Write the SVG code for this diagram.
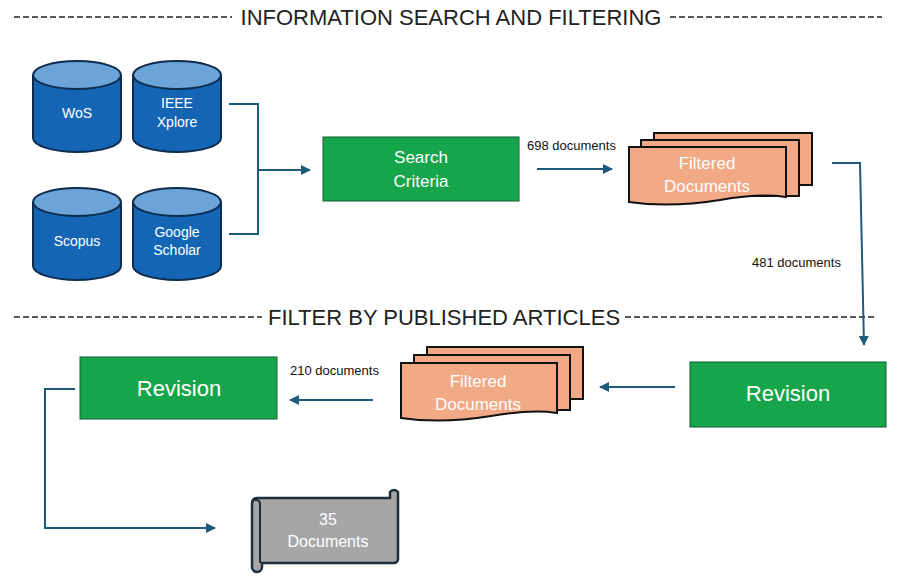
<svg xmlns="http://www.w3.org/2000/svg" width="900" height="584" viewBox="0 0 900 584">
<defs>
<style>
.t{font-family:"Liberation Sans",Arial,sans-serif}
.w{fill:#fff;text-anchor:middle}
.cyl{fill:#1466b4;stroke:#0d2c4e;stroke-width:2}
.top{fill:#6aa4d8;stroke:#0d2c4e;stroke-width:2}
.g{fill:#16a54a;stroke:#0f5f2e;stroke-width:1}
.doc{fill:#f2a985;stroke:#111;stroke-width:2}
.c{fill:none;stroke:#1e5a7e;stroke-width:2}
.d{stroke:#222;stroke-width:1.3;stroke-dasharray:6 3}
.h{font-size:22px;fill:#222;text-anchor:middle}
.l{font-size:13px;fill:#111}
</style>
<marker id="a" viewBox="0 0 10 10" refX="9" refY="5" markerWidth="5" markerHeight="5" orient="auto"><path d="M0,0L10,5L0,10z" fill="#1e5a7e"/></marker>
</defs>
<g id="headers" class="t">
<line class="d" x1="14" y1="17" x2="232" y2="17"/><line class="d" x1="670" y1="17" x2="882" y2="17"/>
<text class="h" x="451" y="25">INFORMATION SEARCH AND FILTERING</text>
<line class="d" x1="14" y1="317" x2="262" y2="317"/><line class="d" x1="625" y1="317" x2="877" y2="317"/>
<text class="h" x="444" y="325">FILTER BY PUBLISHED ARTICLES</text>
</g>
<g id="connectors">
<polyline class="c" points="229,104 258,104 258,234 229,234"/>
<line class="c" x1="258" y1="170" x2="310" y2="170" marker-end="url(#a)"/>
<line class="c" x1="537" y1="169" x2="612" y2="169" marker-end="url(#a)"/>
<polyline class="c" points="832,163 860,163 864,345" marker-end="url(#a)"/>
<line class="c" x1="675" y1="387" x2="600" y2="387" marker-end="url(#a)"/>
<line class="c" x1="373" y1="400" x2="290" y2="400" marker-end="url(#a)"/>
<polyline class="c" points="75,389 45,389 45,528 215,528" marker-end="url(#a)"/>
<text class="t l" x="527" y="150">698 documents</text>
<text class="t l" x="752" y="267">481 documents</text>
<text class="t l" x="290" y="375">210 documents</text>
</g>
<g id="wos" class="t"><path class="cyl" d="M33,75V138A44,14 0 0 0 121,138V75"/><ellipse class="top" cx="77" cy="75" rx="44" ry="14"/><text class="w" x="77" y="118" font-size="14">WoS</text></g>
<g id="ieee" class="t"><path class="cyl" d="M133,75V138A44,14 0 0 0 221,138V75"/><ellipse class="top" cx="177" cy="75" rx="44" ry="14"/><text class="w" x="177" y="108" font-size="14">IEEE</text><text class="w" x="177" y="127" font-size="14">Xplore</text></g>
<g id="scopus" class="t"><path class="cyl" d="M33,202V266A44,14 0 0 0 121,266V202"/><ellipse class="top" cx="77" cy="202" rx="44" ry="14"/><text class="w" x="77" y="246" font-size="14">Scopus</text></g>
<g id="scholar" class="t"><path class="cyl" d="M133,202V266A44,14 0 0 0 221,266V202"/><ellipse class="top" cx="177" cy="202" rx="44" ry="14"/><text class="w" x="177" y="237" font-size="14">Google</text><text class="w" x="177" y="255" font-size="14">Scholar</text></g>
<g id="search" class="t"><rect class="g" x="323" y="137" width="196" height="64"/><text class="w" x="421" y="163" font-size="17">Search</text><text class="w" x="421" y="187" font-size="17">Criteria</text></g>
<g id="filtered1" class="t">
<rect class="doc" x="654" y="133" width="158" height="52"/>
<rect class="doc" x="641" y="140" width="158" height="56"/>
<path class="doc" d="M629,147H786V197Q760,193 720,200Q670,208 629,202Z"/>
<text class="w" x="707" y="169" font-size="17">Filtered</text><text class="w" x="707" y="192" font-size="17">Documents</text>
</g>
<g id="revision1" class="t"><rect class="g" x="690" y="362" width="196" height="65"/><text class="w" x="788" y="401" font-size="22">Revision</text></g>
<g id="filtered2" class="t">
<rect class="doc" x="427" y="347" width="156" height="52"/>
<rect class="doc" x="414" y="355" width="156" height="55"/>
<path class="doc" d="M401,363H557V413Q531,409 491,416Q441,424 401,418Z"/>
<text class="w" x="478" y="387" font-size="17">Filtered</text><text class="w" x="478" y="410" font-size="17">Documents</text>
</g>
<g id="revision2" class="t"><rect class="g" x="80" y="357" width="197" height="62"/><text class="w" x="179" y="396" font-size="22">Revision</text></g>
<g id="result" class="t">
<path d="M258,498H390V492A5,5 0 0 1 398,492V559A4,4 0 0 1 394,563H262V567A5,5 0 0 1 252,567V503A5,5 0 0 1 258,498Z" fill="#a6a6a6" stroke="#1c2f3a" stroke-width="2.5"/>
<path d="M252,503A4,4 0 0 1 260,505V563M390,498V492" fill="none" stroke="#1c2f3a" stroke-width="2"/>
<text class="w" x="328" y="525" font-size="16">35</text><text class="w" x="328" y="547" font-size="16">Documents</text>
</g>
</svg>
